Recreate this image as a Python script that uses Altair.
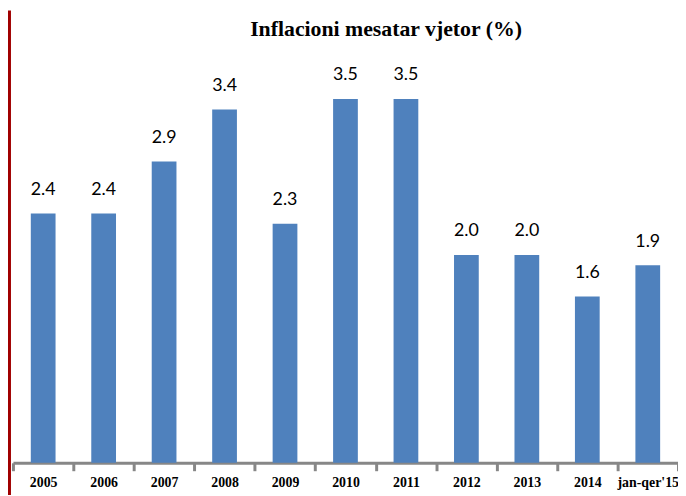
import altair as alt
import pandas as pd

categories = ["2005", "2006", "2007", "2008", "2009", "2010", "2011",
              "2012", "2013", "2014", "jan-qer'15"]
values = [2.4, 2.4, 2.9, 3.4, 2.3, 3.5, 3.5, 2.0, 2.0, 1.6, 1.9]

df = pd.DataFrame({"period": categories, "value": values})

x = alt.X(
    "period:N",
    sort=categories,
    scale=alt.Scale(paddingInner=0, paddingOuter=0),
    axis=alt.Axis(
        title=None, labelAngle=0, tickBand="extent",
        domainColor="#878787", domainWidth=3,
        tickColor="#878787", tickWidth=3, tickSize=8,
        labelFont="Liberation Serif", labelFontWeight="bold",
        labelFontSize=14, labelColor="black", labelPadding=5,
    ),
)
y = alt.Y("value:Q", scale=alt.Scale(domain=[0, 4]), axis=None)

bars = alt.Chart(df).mark_bar(size=25, color="#4F81BD").encode(x=x, y=y)
text = alt.Chart(df).mark_text(
    font="Lato", fontSize=18, baseline="alphabetic", dy=-19, color="black"
).encode(x=x, y=y, text=alt.Text("value:Q", format=".1f"))

red = alt.Chart(pd.DataFrame({"a": [0]})).mark_rule(
    color="#A00000", strokeWidth=3, clip=False
).encode(x=alt.value(-3.5), y=alt.value(-37), y2=alt.value(460))

chart = alt.layer(red, bars, text).properties(
    width=672,
    height=420,
    autosize=alt.AutoSizeParams(type="none"),
    padding={"left": 5, "top": 37, "right": 0, "bottom": 30},
    title=alt.TitleParams(
        text="Inflacioni mesatar vjetor (%)",
        font="Liberation Serif", fontSize=22, fontWeight="bold",
        baseline="alphabetic", offset=-49, dx=41, anchor="middle",
        frame="group", color="black",
    ),
).configure_view(stroke=None)

chart.save("out.html", embed_options={"renderer": "svg", "actions": False})
